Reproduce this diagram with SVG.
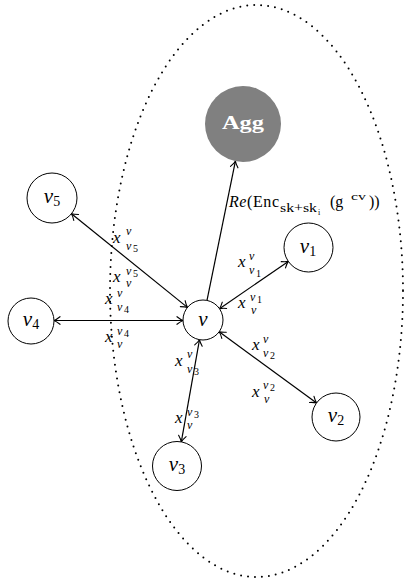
<svg xmlns="http://www.w3.org/2000/svg" width="411" height="582" viewBox="0 0 411 582">
<defs>
<marker id="tip" markerUnits="userSpaceOnUse" markerWidth="12" markerHeight="12" viewBox="-7 -6 8 12" refX="0" refY="0" orient="auto-start-reverse">
<path d="M-6,-3.8 Q-2.2,-0.8 0,0 Q-2.2,0.8 -6,3.8" fill="none" stroke="#000" stroke-width="1.1" stroke-linecap="round"/>
</marker>
</defs>
<style>
.nd{fill:#fff;stroke:#000;stroke-width:1}
.e{stroke:#000;stroke-width:1.2;fill:none}
.lbl{font-style:italic;fill:#000}
.m{font-style:italic;font-size:17px;fill:#000}
.s{font-style:italic;font-size:12px;fill:#000}
.d{font-size:10px;fill:#000}
.r{fill:#000}
</style>
<ellipse cx="256.5" cy="291" rx="146.5" ry="286" fill="none" stroke="#000" stroke-width="2" stroke-dasharray="0 7" stroke-linecap="round"/>
<g id="connectors">
<line class="e" x1="207" y1="300.4" x2="235.4" y2="161.2" marker-end="url(#tip)"/>
<line class="e" x1="219.5" y1="308.7" x2="288.3" y2="261.4" marker-start="url(#tip)" marker-end="url(#tip)"/>
<line class="e" x1="219.2" y1="331.8" x2="316.6" y2="402.9" marker-start="url(#tip)" marker-end="url(#tip)"/>
<line class="e" x1="199.5" y1="339.7" x2="181.3" y2="441.9" marker-start="url(#tip)" marker-end="url(#tip)"/>
<line class="e" x1="183" y1="320.5" x2="54" y2="320.5" marker-start="url(#tip)" marker-end="url(#tip)"/>
<line class="e" x1="187.4" y1="307.4" x2="71.5" y2="213.7" marker-start="url(#tip)" marker-end="url(#tip)"/>
</g>
<g id="edge-labels" font-family="Liberation Serif, Times New Roman, serif">
<text class="r" x="229" y="207" font-size="16" textLength="50" lengthAdjust="spacing"><tspan font-style="italic">Re</tspan>(Enc</text>
<text class="r" x="280" y="212" font-size="12" textLength="37" lengthAdjust="spacingAndGlyphs">sk+sk</text>
<text class="r" x="318" y="215" font-size="8">i</text>
<text class="r" x="330" y="207" font-size="16">(g</text>
<text class="r" x="351" y="200" font-size="10" textLength="15" lengthAdjust="spacingAndGlyphs">cv</text>
<text class="r" x="369" y="207" font-size="16">))</text>

<text class="m" x="238" y="267">x</text><text class="s" x="249" y="260">v</text><text class="s" x="249" y="274">v</text><text class="d" x="256" y="277">1</text>
<text class="m" x="238" y="308">x</text><text class="s" x="250" y="301">v</text><text class="d" x="257" y="303">1</text><text class="s" x="251" y="314">v</text>

<text class="m" x="252" y="350">x</text><text class="s" x="263" y="343">v</text><text class="s" x="263" y="357">v</text><text class="d" x="270" y="359">2</text>
<text class="m" x="252" y="397">x</text><text class="s" x="263" y="389">v</text><text class="d" x="270" y="391">2</text><text class="s" x="264" y="403">v</text>

<text class="m" x="175" y="366">x</text><text class="s" x="187" y="358">v</text><text class="s" x="187" y="373">v</text><text class="d" x="194" y="375">3</text>
<text class="m" x="175" y="423">x</text><text class="s" x="187" y="416">v</text><text class="d" x="194" y="418">3</text><text class="s" x="187" y="429">v</text>

<text class="m" x="113" y="243">x</text><text class="s" x="126" y="235">v</text><text class="s" x="126" y="250">v</text><text class="d" x="133" y="252">5</text>
<text class="m" x="113" y="282">x</text><text class="s" x="126" y="275">v</text><text class="d" x="133" y="277">5</text><text class="s" x="126" y="287">v</text>

<text class="m" x="105" y="304">x</text><text class="s" x="117" y="297">v</text><text class="s" x="117" y="311">v</text><text class="d" x="124" y="313">4</text>
<text class="m" x="105" y="342">x</text><text class="s" x="117" y="335">v</text><text class="d" x="124" y="337">4</text><text class="s" x="117" y="348">v</text>
</g>
<g id="agg" font-family="Liberation Serif, Times New Roman, serif">
<circle cx="243" cy="124" r="38" fill="#808080"/>
<text x="243" y="129" font-size="19" font-weight="bold" fill="#fff" text-anchor="middle" textLength="42" lengthAdjust="spacingAndGlyphs">Agg</text>
</g>
<g id="v" font-family="Liberation Serif, Times New Roman, serif">
<circle class="nd" cx="203" cy="320" r="20"/>
<text class="lbl" x="203" y="326" font-size="21" text-anchor="middle">v</text>
</g>
<g id="v1" font-family="Liberation Serif, Times New Roman, serif">
<circle class="nd" cx="308.5" cy="247.5" r="24.5"/>
<text class="lbl" x="308" y="253" font-size="21" text-anchor="middle">v<tspan font-style="normal" font-size="14" dy="3">1</tspan></text>
</g>
<g id="v2" font-family="Liberation Serif, Times New Roman, serif">
<circle class="nd" cx="336" cy="417" r="24"/>
<text class="lbl" x="336" y="422" font-size="21" text-anchor="middle">v<tspan font-style="normal" font-size="14" dy="3">2</tspan></text>
</g>
<g id="v3" font-family="Liberation Serif, Times New Roman, serif">
<circle class="nd" cx="177" cy="466" r="24.5"/>
<text class="lbl" x="177" y="471" font-size="21" text-anchor="middle">v<tspan font-style="normal" font-size="14" dy="3">3</tspan></text>
</g>
<g id="v4" font-family="Liberation Serif, Times New Roman, serif">
<circle class="nd" cx="31" cy="321" r="23"/>
<text class="lbl" x="31" y="326" font-size="21" text-anchor="middle">v<tspan font-style="normal" font-size="14" dy="3">4</tspan></text>
</g>
<g id="v5" font-family="Liberation Serif, Times New Roman, serif">
<circle class="nd" cx="52" cy="198" r="25"/>
<text class="lbl" x="52" y="203" font-size="21" text-anchor="middle">v<tspan font-style="normal" font-size="14" dy="3">5</tspan></text>
</g>
</svg>
